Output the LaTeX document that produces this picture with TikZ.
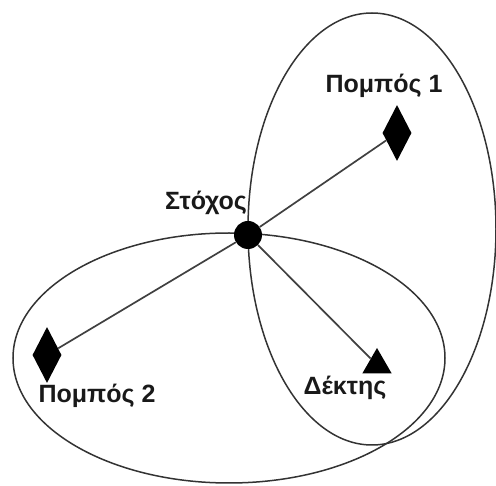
\documentclass[tikz,border=0pt]{standalone}
\usepackage{fontspec}
\setmainfont{Liberation Sans}
\usetikzlibrary{shapes.geometric}
\begin{document}
\begin{tikzpicture}[x=1pt,y=-1pt,
  loop/.style={draw=black!80,line width=1.5pt},
  link/.style={draw=black!75,line width=1.7pt},
  label/.style={anchor=base,inner sep=0pt,font=\bfseries\fontsize{25}{28}\selectfont,text=black!90},
  emitter/.style={diamond,fill=black,inner sep=0pt,shape aspect=0.5,minimum width=29pt,minimum height=56pt},
  receiver/.style={regular polygon,regular polygon sides=3,fill=black,inner sep=0pt,minimum size=34pt},
  target/.style={circle,fill=black,inner sep=0pt,minimum size=28pt}]
\useasboundingbox (0,0) rectangle (496,486);
% coverage ellipses
\draw[loop] (372,229) ellipse [x radius=124, y radius=216];
\draw[loop] (229,358) ellipse [x radius=216, y radius=125];
% devices
\node[emitter] (tx1) at (397,133) {};
\node[emitter] (tx2) at (47,355) {};
\node[receiver] (rx) at (377,365) {};
\node[target] (tg) at (248,235) {};
% paths
\draw[link] (tg) -- (tx1);
\draw[link] (tg) -- (tx2);
\draw[link] (tg) -- (rx);
% labels
\node[label] (l1) at (384,93) {Πομπός 1};
\node[label] (l2) at (97,403) {Πομπός 2};
\node[label] (lt) at (206,210) {Στόχος};
\node[label] (lr) at (345,395) {Δέκτης};
\end{tikzpicture}
\end{document}
